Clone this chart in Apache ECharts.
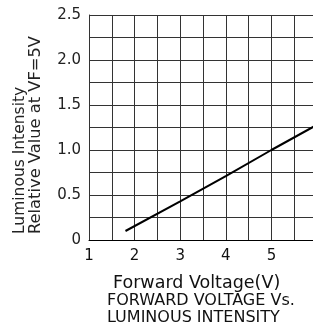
<!DOCTYPE html>
<html><head><meta charset="utf-8">
<script src="https://cdn.jsdelivr.net/npm/echarts@6/dist/echarts.min.js"></script>
<style>html,body{margin:0;padding:0;background:#fff}#c{width:313px;height:329px}</style>
</head><body><div id="c"></div>
<script>
const voltage = [1.8, 3, 4, 5, 6];
const intensity = [0.1, 0.43, 0.71, 1.0, 1.28];
const xTicks = [1, 2, 3, 4, 5, 6];
const yTicks = [0, 0.5, 1.0, 1.5, 2.0, 2.5];
const yTitle1 = 'Luminous Intensity';
const yTitle2 = 'Relative Value at VF=5V';
const xTitle = 'Forward Voltage(V)';
const title1 = 'FORWARD VOLTAGE Vs.';
const title2 = 'LUMINOUS INTENSITY';

const font = 'DejaVu Sans';
const chart = echarts.init(document.getElementById('c'), null, {renderer: 'canvas'});
chart.setOption({
  animation: false,
  backgroundColor: '#fff',
  grid: {left: 89, right: -4, top: 15, bottom: 89, containLabel: false, outerBoundsMode: 'none'},
  xAxis: {
    type: 'value', min: 1, max: 6, interval: 0.5,
    axisLine: {show: true, lineStyle: {color: '#000', width: 1}},
    axisTick: {show: false},
    splitLine: {show: true, lineStyle: {color: '#333', width: 1}},
    axisLabel: {
      fontFamily: font, fontSize: 15, color: '#111', margin: 9,
      showMaxLabel: true, showMinLabel: true, hideOverlap: false,
      formatter: v => xTicks.includes(v) ? String(v) : ''
    }
  },
  yAxis: {
    type: 'value', min: 0, max: 2.5, interval: 0.25,
    axisLine: {show: true, lineStyle: {color: '#333', width: 1}},
    axisTick: {show: false},
    splitLine: {show: true, lineStyle: {color: '#333', width: 1}},
    axisLabel: {
      fontFamily: font, fontSize: 15, color: '#222', margin: 8,
      formatter: v => {
        const t = yTicks.find(k => Math.abs(k - v) < 1e-9);
        if (t === undefined) return '';
        return t === 0 ? '0' : t.toFixed(1);
      }
    }
  },
  series: [{
    type: 'line', data: voltage.map((v, i) => [v, intensity[i]]),
    showSymbol: false, lineStyle: {color: '#000', width: 2}, clip: true
  }],
  graphic: [
    {type: 'text', x: 20, y: 234, rotation: Math.PI / 2,
     style: {text: yTitle1, font: '15.5px ' + font, fill: '#222', textAlign: 'left', textVerticalAlign: 'middle'}},
    {type: 'text', x: 36, y: 234, rotation: Math.PI / 2,
     style: {text: yTitle2, font: '16.3px ' + font, fill: '#222', textAlign: 'left', textVerticalAlign: 'middle'}},
    {type: 'text', x: 113, y: 283,
     style: {text: xTitle, font: '17.5px ' + font, fill: '#111', textAlign: 'left', textVerticalAlign: 'middle'}},
    {type: 'text', x: 107, y: 301,
     style: {text: title1, font: '16px ' + font, fill: '#111', textAlign: 'left', textVerticalAlign: 'middle'}},
    {type: 'text', x: 107, y: 318,
     style: {text: title2, font: '16px ' + font, fill: '#111', textAlign: 'left', textVerticalAlign: 'middle'}}
  ]
});
</script></body></html>
